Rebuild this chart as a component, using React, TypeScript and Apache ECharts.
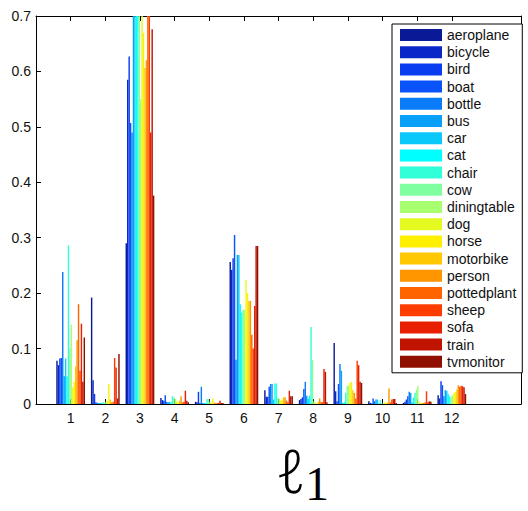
import React, { useEffect, useRef } from "react";
import * as echarts from "echarts";

const classes = [
  "aeroplane", "bicycle", "bird", "boat", "bottle", "bus", "car", "cat", "chair", "cow",
  "diningtable", "dog", "horse", "motorbike", "person", "pottedplant", "sheep", "sofa", "train", "tvmonitor",
];

const colors = [
  "#0a1a96", "#0a28c8", "#0a3cf0", "#0a52fa", "#0a7cfa", "#0aa0fa", "#0ac8fa", "#00ffff", "#30ffd8", "#80ffa0",
  "#a8ff70", "#e4fa20", "#fff000", "#ffc800", "#ff9600", "#ff6400", "#ff3c00", "#e82000", "#c01400", "#901000",
];

const groupLabels = ["1", "2", "3", "4", "5", "6", "7", "8", "9", "10", "11", "12"];

const g1 = [0.078, 0.07, 0.082, 0.083, 0.238, 0.05, 0.082, 0.05, 0.286, 0.1, 0.143, 0.03, 0.04, 0.068, 0.115, 0.18, 0.06, 0.145, 0.04, 0.12];
const g2 = [0.192, 0.043, 0.018, 0.003, 0.002, 0.002, 0.002, 0.002, 0.003, 0.002, 0.004, 0.006, 0.036, 0.008, 0.003, 0.004, 0.083, 0.066, 0.01, 0.09];
const g3 = [0.29, 0.585, 0.627, 0.507, 0.49, 0.75, 0.75, 0.75, 0.75, 0.75, 0.55, 0.75, 0.67, 0.606, 0.62, 0.75, 0.75, 0.49, 0.676, 0.376];
const g4 = [0.011, 0.007, 0.006, 0.016, 0.004, 0.003, 0.004, 0.003, 0.014, 0.012, 0.009, 0.005, 0.003, 0.006, 0.014, 0.003, 0.004, 0.024, 0.006, 0.003];
const g5 = [0.004, 0.003, 0.022, 0.002, 0.031, 0.002, 0.002, 0.002, 0.009, 0.009, 0.004, 0.002, 0.01, 0.003, 0.002, 0.002, 0.002, 0.006, 0.002, 0.002];
const g6 = [0.256, 0.242, 0.263, 0.305, 0.08, 0.269, 0.269, 0.18, 0.165, 0.17, 0.17, 0.224, 0.2, 0.186, 0.186, 0.125, 0.1, 0.177, 0.285, 0.285];
const g7 = [0.025, 0.013, 0.013, 0.031, 0.036, 0.036, 0.008, 0.037, 0.037, 0.011, 0.01, 0.006, 0.008, 0.012, 0.012, 0.006, 0.003, 0.024, 0.014, 0.014];
const g8 = [0.007, 0.009, 0.012, 0.027, 0.04, 0.015, 0.01, 0.015, 0.139, 0.079, 0.005, 0.002, 0.002, 0.004, 0.01, 0.004, 0.003, 0.063, 0.058, 0.003];
const g9 = [0.11, 0.023, 0.005, 0.036, 0.072, 0.06, 0.002, 0.003, 0.02, 0.033, 0.033, 0.038, 0.04, 0.025, 0.02, 0.01, 0.078, 0.07, 0.04, 0.038];
const g10 = [0.005, 0.002, 0.001, 0.01, 0.005, 0.008, 0.008, 0.002, 0.007, 0.001, 0.001, 0.003, 0.002, 0.003, 0.028, 0.003, 0.008, 0.009, 0.009, 0.002];
const g11 = [0.002, 0.004, 0.008, 0.014, 0.022, 0.02, 0.003, 0.012, 0.02, 0.026, 0.033, 0.004, 0.002, 0.002, 0.002, 0.003, 0.023, 0.003, 0.005, 0.004];
const g12 = [0.016, 0.01, 0.041, 0.034, 0.014, 0.025, 0.024, 0.018, 0.014, 0.012, 0.016, 0.02, 0.022, 0.026, 0.034, 0.031, 0.033, 0.032, 0.03, 0.018];

const groups = [g1, g2, g3, g4, g5, g6, g7, g8, g9, g10, g11, g12];

const yTicks = ["0", "0.1", "0.2", "0.3", "0.4", "0.5", "0.6", "0.7"];

const axisTitle = "ℓ";
const axisTitleSub = "1";

const FONT = "'Liberation Sans', Arial, Helvetica, sans-serif";
const SERIF = "'Liberation Serif', 'DejaVu Serif', serif";
const ELL = "'Noto Sans', 'Noto Sans CJK JP', serif";

export default function App() {
  const ref = useRef<HTMLDivElement>(null);
  useEffect(() => {
    if (!ref.current) return;
    const chart = echarts.init(ref.current, null, { renderer: "svg" });
    const axisData = ["", ...groupLabels, " ", "  "];
    const tickShown = (i: number) => i >= 1 && i <= groupLabels.length;
    const yMax = Number(yTicks[yTicks.length - 1]);
    const series = classes.map((name, i) => ({
      name,
      type: "bar",
      barGap: "0%",
      barCategoryGap: "17%",
      clip: true,
      itemStyle: { color: colors[i] },
      data: ["-", ...groups.map((g) => g[i]), "-", "-"],
    }));
    const baseX = {
      type: "category",
      data: axisData,
      boundaryGap: false,
      axisLine: { show: true, onZero: false, lineStyle: { color: "#000", width: 1 } },
      axisTick: { show: true, inside: true, length: 5, interval: (i: number) => tickShown(i), lineStyle: { color: "#000" } },
      splitLine: { show: false },
    };
    const baseY = {
      type: "value",
      min: 0,
      max: yMax,
      interval: 0.1,
      axisLine: { show: true, onZero: false, lineStyle: { color: "#000", width: 1 } },
      axisTick: { show: true, inside: true, length: 5, lineStyle: { color: "#000" } },
      splitLine: { show: false },
    };
    chart.setOption({
      animation: false,
      backgroundColor: "#fff",
      grid: { left: 36, right: 5, top: 16, bottom: 107, containLabel: false },
      xAxis: [
        { ...baseX, position: "bottom", axisLabel: { show: true, interval: 0, margin: 7, fontSize: 14, color: "#111", fontFamily: FONT } },
        { ...baseX, position: "top", axisLabel: { show: false } },
      ],
      yAxis: [
        { ...baseY, position: "left", axisLabel: { show: true, margin: 5, fontSize: 14, color: "#111", fontFamily: FONT } },
        { ...baseY, position: "right", axisLabel: { show: false } },
      ],
      legend: {
        data: classes, orient: "vertical", left: 392, top: 24, icon: "rect",
        itemWidth: 42, itemHeight: 12, itemGap: 3.2, padding: [4, 6, 4, 8],
        borderColor: "#000", borderWidth: 1, backgroundColor: "#fff",
        textStyle: { fontSize: 14, lineHeight: 14, color: "#111", fontFamily: FONT },
        selectedMode: false,
      },
      graphic: [
        {
          type: "text", x: 276, y: 470,
          style: { text: axisTitle, fontSize: 60, fontFamily: ELL, fontWeight: 300, fill: "#000", verticalAlign: "middle", align: "left" },
        },
        {
          type: "text", x: 305, y: 483,
          style: { text: axisTitleSub, fontSize: 48, fontFamily: SERIF, fill: "#000", verticalAlign: "middle", align: "left" },
        },
      ],
      series,
    });
    return () => chart.dispose();
  }, []);
  return <div ref={ref} style={{ position: "fixed", left: 0, top: 0, width: 528, height: 511, background: "#fff" }} />;
}
